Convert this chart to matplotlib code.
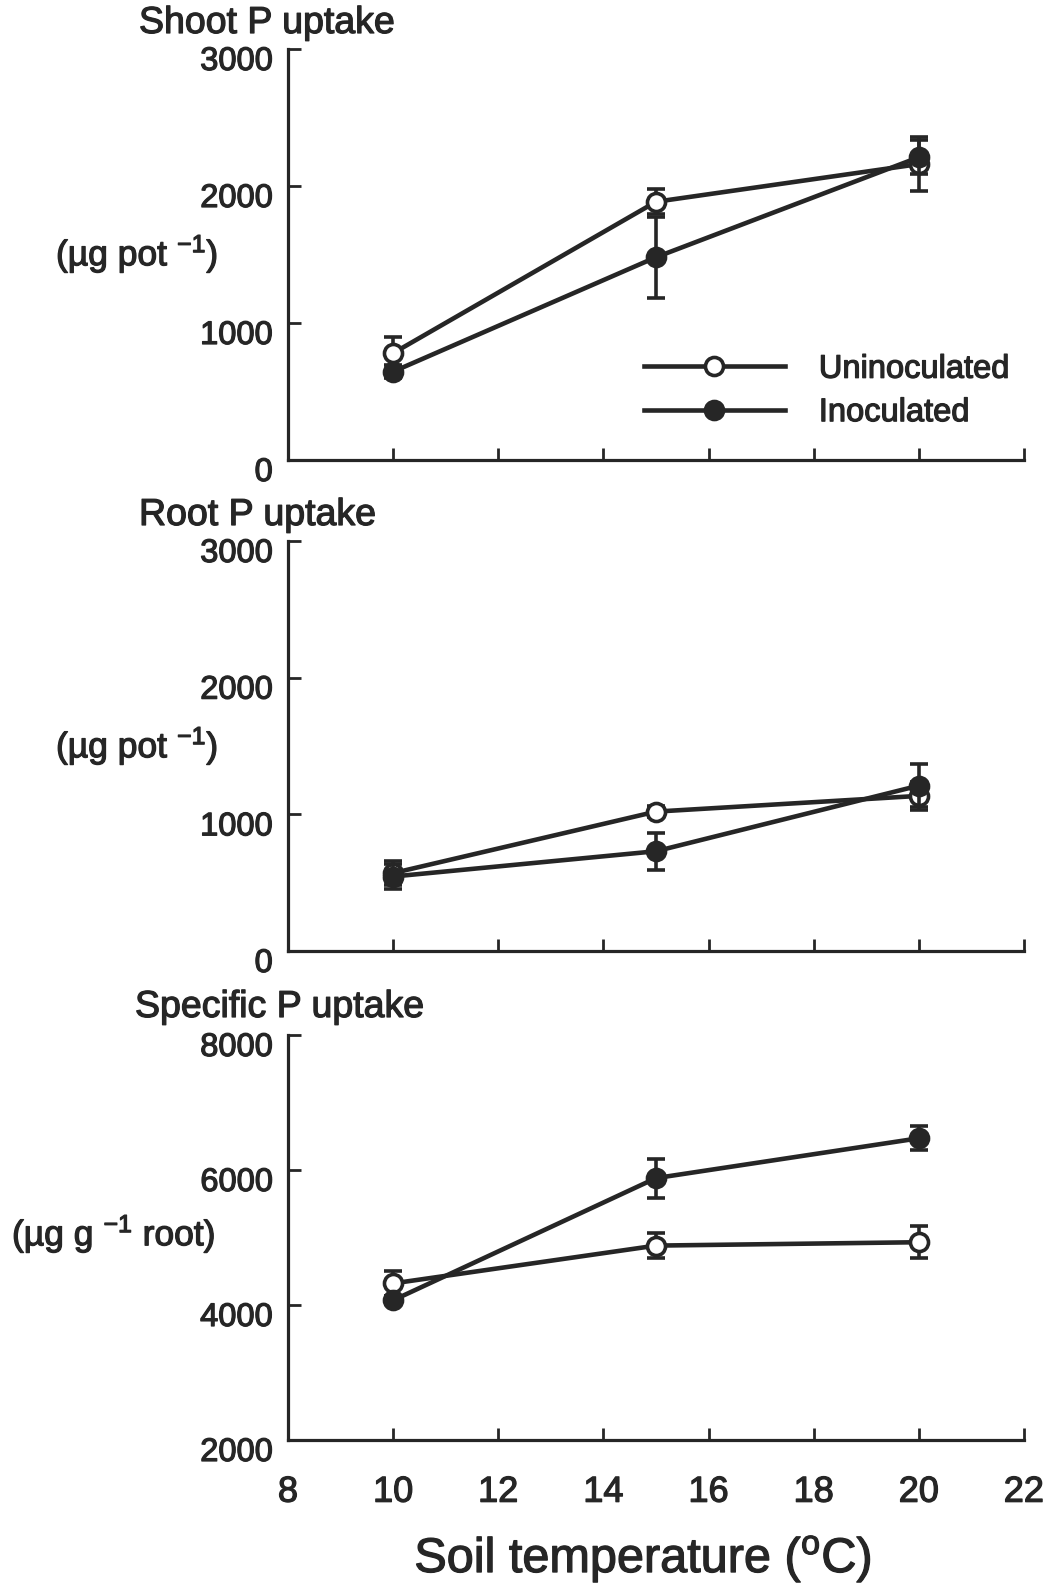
import matplotlib
matplotlib.use("Agg")
import matplotlib.pyplot as plt
import matplotlib.transforms as mtransforms
import matplotlib.patheffects as pe
from matplotlib.lines import Line2D
from matplotlib.text import Text

# ---------------------------------------------------------
# Data: P uptake vs soil temperature
# ---------------------------------------------------------
temps = [10, 15, 20]

shoot_unin = [780, 1885, 2160]
shoot_unin_err = [120, 90, 195]
shoot_inoc = [645, 1480, 2210]
shoot_inoc_err = [50, 295, 125]

root_unin = [570, 1020, 1135]
root_unin_err = [85, 40, 105]
root_inoc = [545, 730, 1210]
root_inoc_err = [90, 135, 155]

spec_unin = [4320, 4880, 4930]
spec_unin_err = [180, 180, 235]
spec_inoc = [4070, 5880, 6470]
spec_inoc_err = [60, 290, 180]

panel_titles = ["Shoot P uptake", "Root P uptake", "Specific P uptake"]
unit_labels = ["(µg pot $^{-1}$)", "(µg pot $^{-1}$)", "(µg g $^{-1}$ root)"]
yticks_list = [[0, 1000, 2000, 3000], [0, 1000, 2000, 3000], [2000, 4000, 6000, 8000]]
ylims = [(0, 3000), (0, 3000), (2000, 8000)]
xticks = [8, 10, 12, 14, 16, 18, 20, 22]

# ---------------------------------------------------------
# Style
# ---------------------------------------------------------
plt.rcParams['font.family'] = ['Liberation Sans', 'DejaVu Sans']
plt.rcParams['mathtext.fontset'] = 'custom'
plt.rcParams['mathtext.rm'] = 'Liberation Sans'
plt.rcParams['mathtext.it'] = 'Liberation Sans'

INK = '#262626'
W, H = 1058, 1587
LW, MS, MEW = 3.3, 13, 2.6

fig = plt.figure(figsize=(W / 100, H / 100), dpi=100)


def px(x, y):
    return x / W, 1 - y / H


# axes boxes in pixels: left, top, right, bottom
boxes = [(288, 49, 1024, 460), (288, 541, 1024, 951), (288, 1035, 1024, 1440)]
series = [
    (shoot_unin, shoot_unin_err, shoot_inoc, shoot_inoc_err),
    (root_unin, root_unin_err, root_inoc, root_inoc_err),
    (spec_unin, spec_unin_err, spec_inoc, spec_inoc_err),
]
title_pos = [(139, 23), (139, 515), (135, 1007)]
unit_pos = [(56, 254), (56, 746), (12, 1234)]

axes = []
for i, (l, t, r, b) in enumerate(boxes):
    ax = fig.add_axes([l / W, 1 - b / H, (r - l) / W, (b - t) / H])
    axes.append(ax)
    unin, unin_err, inoc, inoc_err = series[i]

    common = dict(color=INK, lw=LW, capsize=6.5, capthick=3, elinewidth=2.6,
                  ms=MS, mew=MEW, clip_on=False)
    ax.errorbar(temps, unin, yerr=unin_err, fmt='-o', mfc='white', mec=INK,
                zorder=3, **common)
    ax.errorbar(temps, inoc, yerr=inoc_err, fmt='-o', mfc=INK, mec=INK,
                zorder=4, **common)

    ax.set_xlim(8, 22)
    ax.set_ylim(*ylims[i])
    ax.set_xticks(xticks)
    ax.set_yticks(yticks_list[i])

    for side in ['top', 'right']:
        ax.spines[side].set_visible(False)
    for side in ['left', 'bottom']:
        ax.spines[side].set_linewidth(2.3)
        ax.spines[side].set_color(INK)

    ax.tick_params(direction='in', length=9, width=2.0, color=INK,
                   labelcolor=INK)
    ax.tick_params(axis='y', labelsize=23.5, pad=11)
    ax.tick_params(axis='x', labelsize=26, pad=25)
    if i < 2:
        ax.tick_params(axis='x', labelbottom=False)

    # y labels sit slightly below their ticks
    shift = mtransforms.ScaledTranslation(0, -0.09, fig.dpi_scale_trans)
    for lab in ax.get_yticklabels():
        lab.set_transform(lab.get_transform() + shift)

    tx, ty = title_pos[i]
    fig.text(*px(tx, ty), panel_titles[i], fontsize=27, color=INK,
             ha='left', va='center')
    ux, uy = unit_pos[i]
    fig.text(*px(ux, uy), unit_labels[i], fontsize=25.5, color=INK,
             ha='left', va='center')

# legend in the top panel: plain line + marker, no error bars
leg_handles = [
    Line2D([], [], color=INK, lw=LW, marker='o', ms=MS, mew=MEW, mfc='white', mec=INK),
    Line2D([], [], color=INK, lw=LW, marker='o', ms=MS, mew=MEW, mfc=INK, mec=INK),
]
axes[0].legend(leg_handles, ['Uninoculated', 'Inoculated'], loc='center left',
               bbox_to_anchor=(0.484, 0.168), frameon=False, fontsize=23.5,
               handlelength=4.3, handletextpad=1.05, labelspacing=0.38,
               borderpad=0, borderaxespad=0, numpoints=1, labelcolor=INK)

fig.text(*px(643, 1559), "Soil temperature ($^{\\mathrm{o}}$C)", fontsize=35,
         color=INK, ha='center', va='center')

# heavier type, closer to the printed figure
for t in fig.findobj(Text):
    t.set_path_effects([pe.withStroke(linewidth=0.9, foreground=INK)])

fig.savefig("out.png", dpi=100)
